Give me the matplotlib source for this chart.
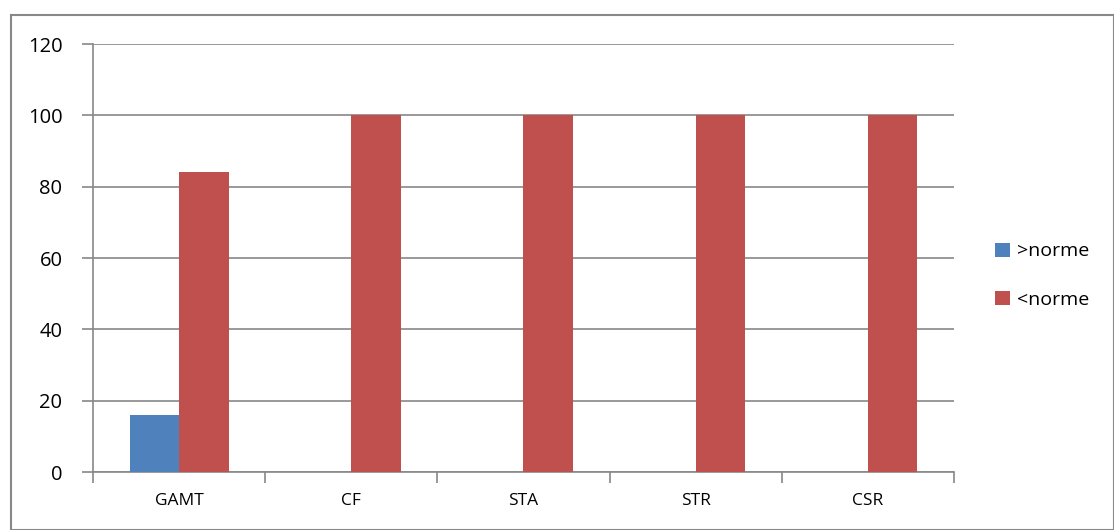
import matplotlib
matplotlib.use("Agg")
import matplotlib.pyplot as plt
import numpy as np
from matplotlib.patches import Rectangle

categories = ["GAMT", "CF", "STA", "STR", "CSR"]
above_norm = [16, 0, 0, 0, 0]
below_norm = [84, 100, 100, 100, 100]
series_labels = [">norme", "<norme"]
yticks = [0, 20, 40, 60, 80, 100, 120]

plt.rcParams['font.family'] = ['Open Sans', 'DejaVu Sans']

W, H = 1114, 530
fig = plt.figure(figsize=(W/100, H/100), dpi=100)
ax = fig.add_axes([93/W, 1-472/H, (954-93)/W, (472-44)/H])

grid_c = "#888888"
blue = "#4F81BD"
red = "#C0504D"

x = np.arange(len(categories))
bw = 0.2875
ax.bar(x - bw/2, above_norm, width=bw, color=blue, label=series_labels[0], zorder=3)
ax.bar(x + bw/2, below_norm, width=bw, color=red, label=series_labels[1], zorder=3)

ax.set_xlim(-0.5, len(categories) - 0.5)
ax.set_ylim(0, 120)
ax.set_yticks(yticks)
ax.set_yticklabels([str(v) for v in yticks], fontsize=14.5)
ax.yaxis.grid(True, color=grid_c, linewidth=1.2, zorder=0)
ax.set_axisbelow(True)

ax.set_xticks(x)
ax.set_xticklabels(categories, fontsize=12.5)
ax.tick_params(axis='x', length=0, pad=15)
ax.set_xticks(np.arange(len(categories) + 1) - 0.5, minor=True)
ax.tick_params(axis='x', which='minor', length=8, color=grid_c, width=1.2, direction='out')
ax.tick_params(axis='y', length=8, color=grid_c, width=1.2, direction='out', pad=14)

for s in ['top', 'right']:
    ax.spines[s].set_visible(False)
for s in ['left', 'bottom']:
    ax.spines[s].set_color(grid_c)
    ax.spines[s].set_linewidth(1.2)

leg = fig.legend(loc='upper left', bbox_to_anchor=(978/W, 1-225/H), frameon=False,
                 fontsize=14, handlelength=0.75, handleheight=0.75, handletextpad=0.35,
                 labelspacing=1.55)

fig.patches.append(Rectangle((11/W, 0), 1 - 11/W - 0.5/W, 1 - 15/H, transform=fig.transFigure,
                             fill=False, edgecolor="#888888", linewidth=1.5))

fig.savefig("out.png", dpi=100, facecolor="white")
